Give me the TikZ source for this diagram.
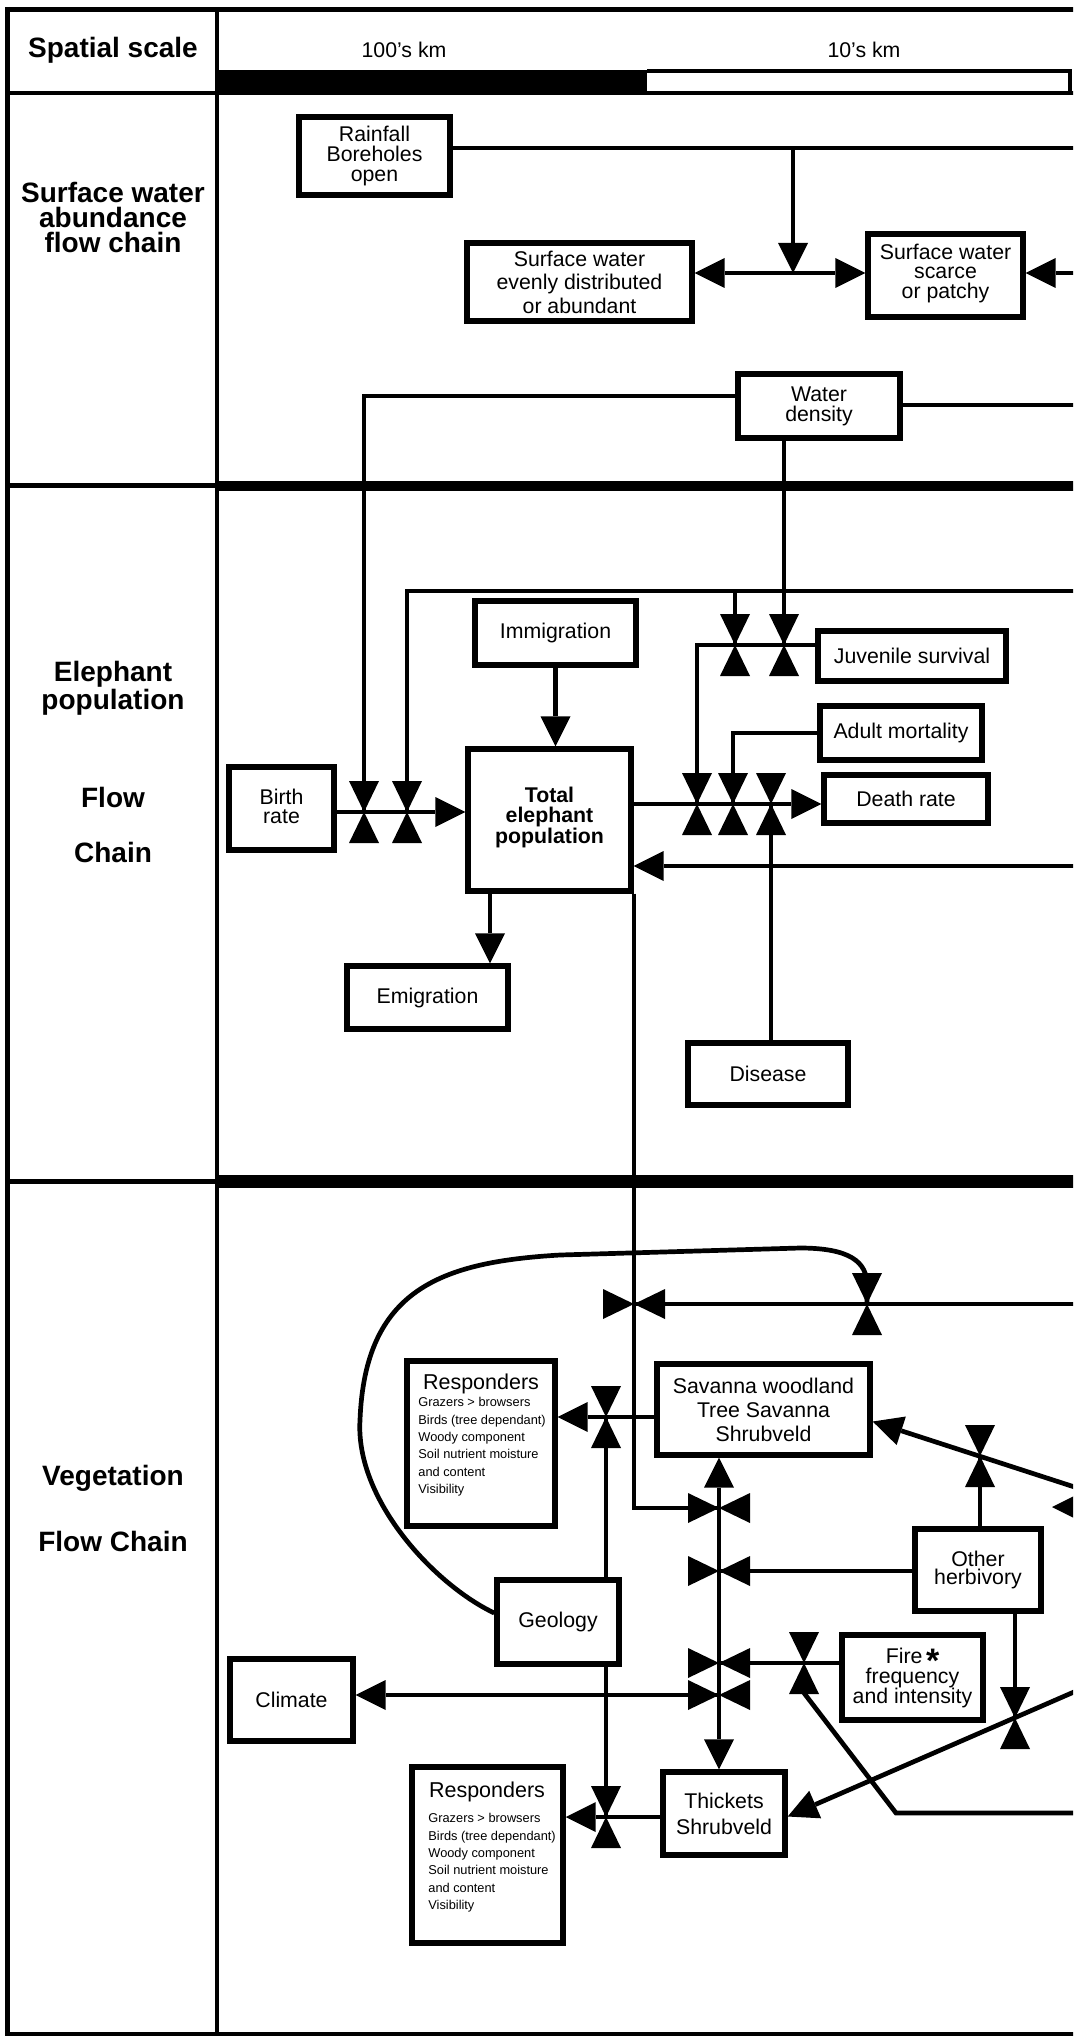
\documentclass[tikz,border=0pt]{standalone}
\usepackage{fontspec}
\setmainfont{Liberation Sans}
\usetikzlibrary{arrows.meta,fit,calc}
\newcommand\vvalve[1]{\fill[shift={(#1)}] (-15,-31) -- (15,-31) -- (0,0) -- (15,31) -- (-15,31) -- (0,0) -- cycle;}
\newcommand\hvalve[1]{\fill[shift={(#1)}] (-31,-15) -- (-31,15) -- (0,0) -- (31,15) -- (31,-15) -- (0,0) -- cycle;}
\begin{document}
\begin{tikzpicture}[x=0.5pt,y=-0.5pt,
  box/.style={draw, line width=2.7pt, inner sep=0pt},
  bt/.style={inner sep=0pt, align=center, font=\fontsize{10.65}{10}\selectfont},
  ln/.style={line width=2.35pt},
  lnthin/.style={line width=1.9pt},
  arr/.style={-{Triangle[length=15pt,width=15pt,line width=0pt]}},
  arrb/.style={{Triangle[length=15pt,width=15pt,line width=0pt]}-{Triangle[length=15pt,width=15pt,line width=0pt]}},
  lbl/.style={font=\bfseries\fontsize{14}{12.5}\selectfont, align=center, inner sep=0pt},
  txt/.style={font=\fontsize{10.65}{10}\selectfont, inner sep=0pt},
  small/.style={font=\fontsize{6.4}{8.7}\selectfont, align=left, inner sep=0pt, anchor=north west},
  frm/.style={line width=2.4pt},
]
\useasboundingbox (0,0) rectangle (1073,2038);
\clip (0,0) rectangle (1073,2038);
\fill[white] (0,0) rectangle (1073,2038);

% ---------- frame ----------
\draw[frm] (5,9.5) -- (1080,9.5);
\draw[line width=2.5pt] (7.5,7) -- (7.5,2036);
\draw[frm] (5,2034) -- (1080,2034);
\draw[line width=2pt] (217,9.5) -- (217,2034);
\draw[line width=2pt] (7.5,93) -- (1080,93);
\draw[line width=2.5pt] (7.5,485.5) -- (217,485.5);
\draw[line width=5pt] (217,485.5) -- (1080,485.5);
\draw[line width=2.4pt] (7.5,1181.5) -- (217,1181.5);
\draw[line width=6.5pt] (217,1181.5) -- (1080,1181.5);
% scale bar
\fill (217,70) rectangle (647,95);
\draw[line width=2pt] (647,71) -- (1070,71) -- (1070,93);

% ---------- labels ----------
\node[lbl] (lSS) at (113,50) {Spatial scale};
\node[txt] (k100) at (404,50) {100’s km};
\node[txt] (k10) at (864,50) {10’s km};
\node[lbl] (lSW) at (113,217) {Surface water\\abundance\\flow chain};
\node[lbl, font=\bfseries\fontsize{14}{14}\selectfont] (lEP) at (113,688) {Elephant\\population};
\node[lbl] (lFl) at (113,797) {Flow};
\node[lbl] (lCh) at (113,852) {Chain};
\node[lbl] (lVg) at (113,1478) {Vegetation};
\node[lbl] (lFC) at (113,1541) {Flow Chain};

% ---------- surface water boxes ----------
\node[box, fit={(299,117) (450,195)}] (rain) {};
\node[bt] (rainT) at (rain.center) {Rainfall\\Boreholes\\open};
\node[box, fit={(467,243) (692,321)}] (swe) {};
\node[bt, font=\fontsize{10.65}{11.75}\selectfont] (sweT) at (swe.center) {Surface water\\evenly distributed\\or abundant};
\node[box, fit={(868,234) (1023,317)}] (sws) {};
\node[bt, font=\fontsize{10.65}{9.75}\selectfont] (swsT) at ([yshift=1pt]sws.center) {Surface water\\scarce\\or patchy};
\node[box, fit={(738,374) (900,438)}] (wd) {};
\node[bt] (wdT) at (wd.center) {Water\\density};

% ---------- elephant boxes ----------
\node[box, fit={(475,601) (636,665)}] (imm) {};
\node[bt] (immT) at (imm.center) {Immigration};
\node[box, fit={(468,749) (631,891)}] (tot) {};
\node[bt, font=\bfseries\fontsize{10.65}{10.25}\selectfont] (totT) at ([yshift=1.5pt]tot.center) {Total\\elephant\\population};
\node[box, fit={(229,767) (334,850)}] (birth) {};
\node[bt, font=\fontsize{10.65}{9.5}\selectfont] (birthT) at ([yshift=1pt]birth.center) {Birth\\rate};
\node[box, fit={(818,631) (1006,681)}] (juv) {};
\node[bt] (juvT) at (juv.center) {Juvenile survival};
\node[box, fit={(820,706) (982,760)}] (adm) {};
\node[bt] (admT) at (adm.center) {Adult mortality};
\node[box, fit={(824,775) (988,823)}] (dr) {};
\node[bt] (drT) at (dr.center) {Death rate};
\node[box, fit={(347,966) (508,1029)}] (emi) {};
\node[bt] (emiT) at (emi.center) {Emigration};
\node[box, fit={(688,1043) (848,1105)}] (dis) {};
\node[bt] (disT) at (dis.center) {Disease};

% ---------- vegetation boxes ----------
\node[box, fit={(407,1361) (555,1526)}] (resp1) {};
\node[txt, font=\fontsize{10.75}{12}\selectfont] (resp1t) at (481,1384) {Responders};
\node[small] (resp1l) at (418,1397) {Grazers > browsers\\Birds (tree dependant)\\Woody component\\Soil nutrient moisture\\and content\\Visibility};
\node[box, fit={(657,1364) (870,1455)}] (sav) {};
\node[bt, font=\fontsize{10.65}{12}\selectfont] (savT) at (sav.center) {Savanna woodland\\Tree Savanna\\Shrubveld};
\node[box, fit={(915,1529) (1041,1611)}] (oth) {};
\node[bt, font=\fontsize{10.65}{9}\selectfont] (othT) at (oth.center) {Other\\herbivory};
\node[box, fit={(497,1580) (619,1664)}] (geo) {};
\node[bt] (geoT) at (geo.center) {Geology};
\node[box, fit={(842,1635) (983,1720)}] (fire) {};
\node[bt] (fireT) at (fire.center) {Fire\,\raisebox{-4.5pt}[0pt][0pt]{\fontsize{17}{10}\selectfont\bfseries *}\\frequency\\and intensity};
\node[box, fit={(230,1659) (353,1741)}] (clim) {};
\node[bt] (climT) at (clim.center) {Climate};
\node[box, fit={(663,1772) (785,1855)}] (thk) {};
\node[bt, font=\fontsize{10.65}{13}\selectfont] (thkT) at (thk.center) {Thickets\\Shrubveld};
\node[box, fit={(412,1767) (563,1943)}] (resp2) {};
\node[txt, font=\fontsize{10.75}{12}\selectfont] (resp2t) at (487,1792) {Responders};
\node[small] (resp2l) at (428,1813) {Grazers > browsers\\Birds (tree dependant)\\Woody component\\Soil nutrient moisture\\and content\\Visibility};

% ---------- coordinates ----------
\coordinate (eR148) at (1080,148);
\coordinate (j1) at (793,148);
\coordinate (j1b) at (793,273);
\coordinate (eR273) at (1080,273);
\coordinate (eR405) at (1080,405);
\coordinate (eR591) at (1080,591);
\coordinate (eR866) at (1080,866);
\coordinate (vB1) at (364,812);
\coordinate (vB2) at (407,812);
\coordinate (vJ1) at (735,645);
\coordinate (vJ2) at (784,645);
\coordinate (vD1) at (697,804);
\coordinate (vD2) at (733,804);
\coordinate (vD3) at (771,804);
\coordinate (xE) at (490,0);
\coordinate (xL) at (634,0);
\coordinate (xV) at (719,0);
\coordinate (vT1) at (634,1304);
\coordinate (vT2) at (867,1304);
\coordinate (eR1304) at (1080,1304);
\coordinate (vR1) at (606,1417);
\coordinate (vR2) at (606,1817);
\coordinate (vS1) at (719,1508);
\coordinate (vS2) at (719,1571);
\coordinate (vS3) at (719,1663);
\coordinate (vS4) at (719,1695);
\coordinate (vO1) at (980,1456);
\coordinate (vO2) at (1015,1718);
\coordinate (vF) at (804,1663);
\coordinate (eD1) at (1090,1492);
\coordinate (eD2) at (1090,1685);
\coordinate (eR1813) at (1080,1813);
\coordinate (bend) at (896,1813);

% ---------- surface water connectors ----------
\draw[ln] (rain.east |- eR148) -- (eR148);
\draw[ln, arr] (j1) -- (j1b);
\draw[ln, arrb] (swe.east |- j1b) -- (sws.west |- j1b);
\draw[ln, arr] (eR273) -- (sws.east |- eR273);
\draw[ln] ([yshift=5pt]wd.west) -| (vB1);
\draw[ln] (wd.east |- eR405) -- (eR405);
\draw[ln] (vJ2 |- wd.south) -- (vJ2);

% ---------- elephant connectors ----------
\draw[ln] (eR591) -| (vB2);
\draw[ln] (vJ1 |- eR591) -- (vJ1);
\draw[ln, arr] (imm.south) -- (imm.south |- tot.north);
\draw[ln, arr] (birth.east |- vB1) -- (tot.west |- vB1);
\draw[ln] (juv.west |- vJ1) -| (vD1);
\draw[ln] (adm.west) -| (vD2);
\draw[ln, arr] (tot.east |- vD1) -- (dr.west |- vD1);
\draw[lnthin] (vD3 |- dis.north) -- (vD3);
\draw[ln, arr] (eR866) -- (tot.east |- eR866);
\draw[ln, arr] (tot.south -| xE) -- (emi.north -| xE);
\draw[lnthin] (tot.south -| xL) |- (vS1);

% ---------- vegetation connectors ----------
\draw[ln] ([yshift=4.5pt]geo.west) .. controls (435,1585) and (355,1500) .. (360,1420)
  .. controls (365,1290) and (440,1262) .. (560,1255) -- (800,1248)
  .. controls (850,1248) and (867,1262) .. (867,1285) -- (vT2);
\draw[ln] (eR1304) -- (vT1);
\draw[ln, arr] (sav.west |- vR1) -- (resp1.east |- vR1);
\draw[ln] (vR1) -- (vR1 |- geo.north);
\draw[ln] (vR2 |- geo.south) -- (vR2);
\draw[ln, arrb] (sav.south -| xV) -- (thk.north -| xV);
\draw[ln] (oth.west |- vS2) -- (vS2);
\draw[ln] (oth.north -| vO1) -- (vO1);
\draw[ln, arr] (eD1) -- ([yshift=-6pt]sav.east);
\draw[ln] (oth.south -| vO2) -- (vO2);
\draw[ln, arr] (eD2) -- ([yshift=-1.5pt]thk.east);
\draw[ln] (fire.west |- vS3) -- (vS3);
\draw[ln] (eR1813) -- (bend) -- ($(vF)+(0,30)$);
\draw[ln, arr] (vS4) -- (clim.east |- vS4);
\draw[ln, arr] (thk.west |- vR2) -- (resp2.east |- vR2);
% partial arrowhead at right edge
\fill (1052,1507) -- (1084,1491) -- (1084,1523) -- cycle;

% ---------- valves ----------
\vvalve{vB1}\vvalve{vB2}
\vvalve{vJ1}\vvalve{vJ2}
\vvalve{vD1}\vvalve{vD2}\vvalve{vD3}
\hvalve{vT1}\vvalve{vT2}
\vvalve{vR1}\vvalve{vR2}
\hvalve{vS1}\hvalve{vS2}\hvalve{vS3}\hvalve{vS4}
\vvalve{vO1}\vvalve{vO2}\vvalve{vF}
\end{tikzpicture}
\end{document}
